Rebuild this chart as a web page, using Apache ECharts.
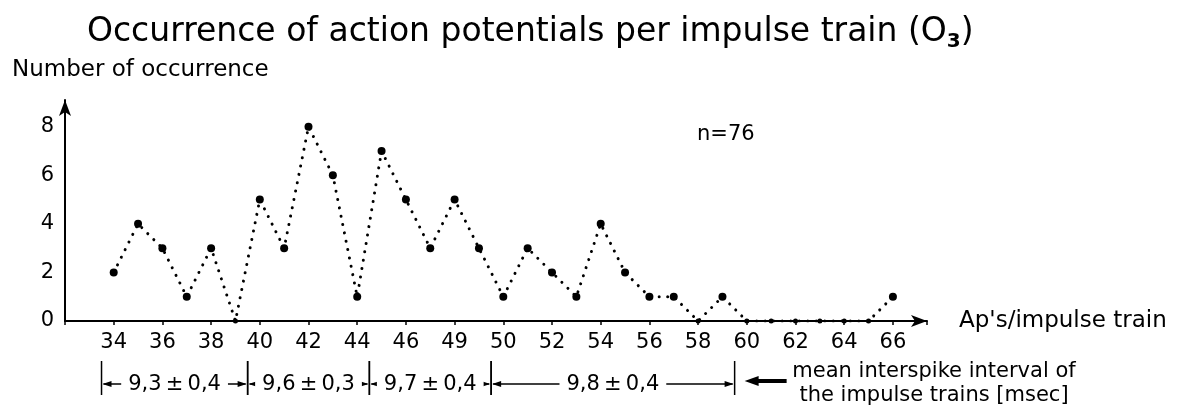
<!DOCTYPE html>
<html>
<head>
<meta charset="utf-8">
<script src="https://cdn.jsdelivr.net/npm/echarts@6/dist/echarts.min.js"></script>
<style>
  html, body { margin: 0; padding: 0; background: #fff; }
  #chart { width: 1195px; height: 410px; }
</style>
</head>
<body>
<div id="chart"></div>
<script>
const apCounts = [34, 35, 36, 37, 38, 39, 40, 41, 42, 43, 44, 45, 46, 47, 48, 49, 50,
  51, 52, 53, 54, 55, 56, 57, 58, 59, 60, 61, 62, 63, 64, 65, 66];
const occurrences = [2, 4, 3, 1, 3, 0, 5, 3, 8, 6, 1, 7, 5, 3, 5, 3, 1,
  3, 2, 1, 4, 2, 1, 1, 0, 1, 0, 0, 0, 0, 0, 0, 1];

const xTickValues = [34, 36, 38, 40, 42, 44, 46, 48, 50, 52, 54, 56, 58, 60, 62, 64, 66];
const xTickLabels = ['34', '36', '38', '40', '42', '44', '46', '49', '50', '52', '54', '56', '58', '60', '62', '64', '66'];

const intervalStarts = [33.5, 39.5, 44.5, 49.5];
const intervalEnds = [39.5, 44.5, 49.5, 59.5];
const intervalLabels = ['9,3\u2009±\u20090,4', '9,6\u2009±\u20090,3', '9,7\u2009±\u20090,4', '9,8\u2009±\u20090,4'];

const FONT = 'DejaVu Sans';

const chart = echarts.init(document.getElementById('chart'));

function arrowHead(tipX, y, dir, len, half) {
  return {
    type: 'polygon',
    shape: { points: [[tipX, y], [tipX - dir * len, y - half], [tipX - dir * len, y + half]] },
    style: { fill: '#000' }
  };
}

const option = {
  animation: false,
  title: {
    text: 'Occurrence of action potentials per impulse train (O{sub|3})',
    left: 82,
    top: 7,
    textStyle: {
      fontFamily: FONT, fontSize: 33, fontWeight: 'normal', color: '#000',
      rich: {
        sub: { fontFamily: FONT, fontSize: 20, fontWeight: 'bold', color: '#000', padding: [20, 0, 0, 0] }
      }
    }
  },
  grid: { left: 65, right: 268, top: 100, bottom: 89 },
  xAxis: {
    type: 'value',
    min: 32,
    max: 67.4,
    interval: 2,
    name: "Ap's/impulse train",
    nameLocation: 'end',
    nameGap: 32,
    nameTextStyle: { fontFamily: FONT, fontSize: 23, color: '#000' },
    splitLine: { show: false },
    axisLine: {
      lineStyle: { color: '#000', width: 2 },
      symbol: ['none', 'arrow'],
      symbolSize: [9, 16]
    },
    axisTick: { length: 4, lineStyle: { color: '#000', width: 1.5 } },
    axisLabel: {
      fontFamily: FONT, fontSize: 21, color: '#000', margin: 11,
      formatter: function (v) {
        const i = xTickValues.indexOf(v);
        return i >= 0 ? xTickLabels[i] : '';
      }
    }
  },
  yAxis: {
    type: 'value',
    min: 0,
    max: 9.1,
    interval: 2,
    splitLine: { show: false },
    axisLine: {
      show: true,
      lineStyle: { color: '#000', width: 2 },
      symbol: ['none', 'arrow'],
      symbolSize: [9, 16]
    },
    axisTick: { show: false },
    axisLabel: {
      fontFamily: FONT, fontSize: 21, color: '#000', margin: 11,
      formatter: function (v) { return v % 2 === 0 ? String(v) : ''; }
    }
  },
  graphic: [
    {
      type: 'text', left: 12, top: 59,
      style: { text: 'Number of occurrence', fontFamily: FONT, fontSize: 23, fill: '#000' }
    },
    {
      type: 'text', left: 697, top: 124,
      style: { text: 'n=76', fontFamily: FONT, fontSize: 21, fill: '#000' }
    },
    {
      type: 'text', x: 934, y: 360,
      style: {
        text: 'mean interspike interval of\nthe impulse trains [msec]',
        fontFamily: FONT, fontSize: 21, fill: '#000', align: 'center', lineHeight: 24
      }
    }
  ],
  series: [
    {
      type: 'line',
      data: apCounts.map((x, i) => [x, occurrences[i]]),
      symbol: 'circle',
      symbolSize: function (d) { return d[1] === 0 ? 5 : 8; },
      itemStyle: { color: '#000' },
      lineStyle: { color: '#000', width: 3, type: [0.01, 8.5], cap: 'round' },
      z: 3
    },
    {
      type: 'custom',
      clip: false,
      silent: true,
      encode: { x: [0, 1], y: 2 },
      data: intervalStarts.map((s, i) => [s, intervalEnds[i], 0]),
      renderItem: function (params, api) {
        const a = api.coord([api.value(0), 0]);
        const b = api.coord([api.value(1), 0]);
        const yMid = a[1] + 63;
        const yTop = a[1] + 40;
        const yBot = a[1] + 74;
        const stroke = { stroke: '#000', lineWidth: 1.5 };
        const children = [
          { type: 'line', shape: { x1: a[0], y1: yTop, x2: a[0], y2: yBot }, style: stroke },
          { type: 'line', shape: { x1: b[0], y1: yTop, x2: b[0], y2: yBot }, style: stroke },
          { type: 'line', shape: { x1: a[0] + 2, y1: yMid, x2: b[0] - 2, y2: yMid }, style: stroke },
          arrowHead(a[0] + 1, yMid, -1, 9, 3),
          arrowHead(b[0] - 1, yMid, 1, 9, 3),
          {
            type: 'text', x: (a[0] + b[0]) / 2, y: yMid + 1,
            style: {
              text: intervalLabels[params.dataIndex], fontFamily: FONT, fontSize: 21, fill: '#000',
              align: 'center', verticalAlign: 'middle', backgroundColor: '#fff', padding: [2, 7]
            }
          }
        ];
        if (params.dataIndex === intervalStarts.length - 1) {
          children.push(
            { type: 'line', shape: { x1: b[0] + 20, y1: yMid - 3, x2: b[0] + 52, y2: yMid - 3 }, style: { stroke: '#000', lineWidth: 4 } },
            arrowHead(b[0] + 10, yMid - 3, -1, 14, 5)
          );
        }
        return { type: 'group', children: children };
      }
    }
  ]
};

chart.setOption(option);
window.addEventListener('resize', chart.resize);
</script>
</body>
</html>
